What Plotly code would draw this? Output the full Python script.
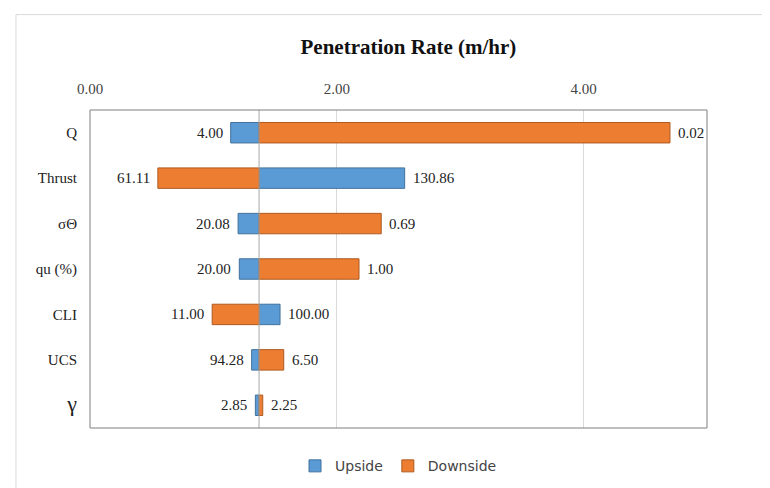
import plotly.graph_objects as go

params = ["Q", "Thrust", "σΘ", "qu (%)", "CLI", "UCS", "<span style='font-size:22px'>γ</span>"]
base = 1.37
upside = [1.14, 2.55, 1.20, 1.21, 1.54, 1.31, 1.34]
downside = [4.70, 0.55, 2.36, 2.18, 0.99, 1.57, 1.40]
up_labels = ["4.00", "130.86", "20.08", "20.00", "100.00", "94.28", "2.85"]
down_labels = ["0.02", "61.11", "0.69", "1.00", "11.00", "6.50", "2.25"]

blue, orange = "#5B9BD5", "#ED7D31"
fig = go.Figure()
fig.add_bar(y=params, x=[v - base for v in upside], base=base, orientation="h", name="Upside",
            marker=dict(color=blue, line=dict(color="#41719C", width=1)))
fig.add_bar(y=params, x=[v - base for v in downside], base=base, orientation="h", name="Downside",
            marker=dict(color=orange, line=dict(color="#AE5A21", width=1)))

for vals, labs in ((upside, up_labels), (downside, down_labels)):
    for p, v, l in zip(params, vals, labs):
        fig.add_annotation(x=v, y=p, text=l, showarrow=False,
                           xanchor="left" if v > base else "right",
                           xshift=6 if v > base else -6,
                           font=dict(family="Liberation Serif, serif", size=15, color="#222"))

fig.add_shape(type="line", x0=base, x1=base, y0=0, y1=1, yref="paper",
              line=dict(color="#A6A6A6", width=1))
fig.add_shape(type="rect", x0=0, x1=1, y0=0, y1=1, xref="paper", yref="paper",
              line=dict(color="#7F7F7F", width=1))
fig.add_shape(type="rect", x0=-0.12, x1=1.1, y0=-0.3, y1=1.3, xref="paper", yref="paper",
              line=dict(color="#D9D9D9", width=1))

fig.update_layout(
    width=770, height=488, barmode="overlay", bargap=0.55,
    plot_bgcolor="white", paper_bgcolor="white",
    margin=dict(l=82, r=71, t=102, b=68, autoexpand=False),
    title=dict(text="<b>Penetration Rate (m/hr)</b>", x=0.52, xanchor="center", y=0.92, yanchor="middle",
               font=dict(family="Liberation Serif, serif", size=21, color="#111")),
    xaxis=dict(side="top", range=[0, 5.0], tickvals=[0, 2, 4], ticktext=["0.00", "2.00", "4.00"],
               showgrid=True, gridcolor="#D9D9D9", zeroline=False, automargin=False,
               ticklabelstandoff=12,
               tickfont=dict(family="Liberation Serif, serif", size=15, color="#444")),
    yaxis=dict(autorange="reversed", showgrid=False, ticks="", ticklen=0, automargin=False,
               ticklabelstandoff=12,
               tickfont=dict(family="Liberation Serif, serif", size=15, color="#222")),
    legend=dict(orientation="h", x=0.5, xanchor="center", y=-0.07, yanchor="top",
                font=dict(family="DejaVu Sans, sans-serif", size=14, color="#444")),
    showlegend=True,
)
fig.write_html("out.html")
